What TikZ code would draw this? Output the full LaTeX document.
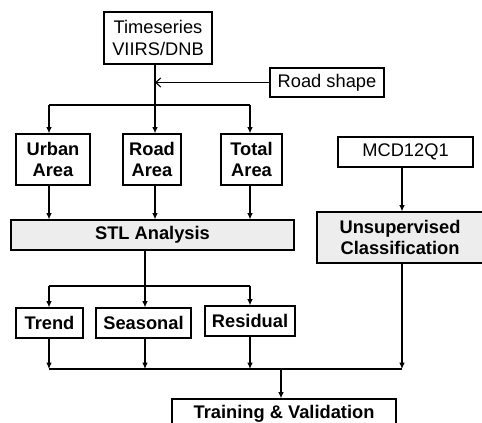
\documentclass[tikz,border=0pt]{standalone}
\usepackage{fontspec}
\setmainfont{Liberation Sans}
\usetikzlibrary{arrows.meta}
\tikzset{
  box/.style={draw=black, line width=0.9pt, align=center, inner sep=1pt, font=\fontsize{13}{15.6}\selectfont},
  boldbox/.style={box, font=\fontsize{13}{15.6}\selectfont\bfseries},
  greybox/.style={boldbox, fill=black!7},
  link/.style={line width=0.8pt, draw=black},
  arrow/.style={link, -{Latex[length=4.5pt,width=4pt]}},
  barb/.style={link, -{Straight Barb[length=3.5pt,width=6.5pt]}},
}

\begin{document}
\begin{tikzpicture}
\useasboundingbox (0,0) rectangle (12.050,10.550);
\clip (0,0) rectangle (12.050,10.550);
\node[box, minimum width=2.700cm, minimum height=1.300cm] (ts) at (3.950,9.600) {Timeseries\\VIIRS/DNB};
\node[box, minimum width=2.850cm, minimum height=0.725cm] (road) at (8.175,8.488) {Road shape};
\node[boldbox, minimum width=1.850cm, minimum height=1.275cm] (urban) at (1.325,6.563) {Urban\\Area};
\node[boldbox, minimum width=1.450cm, minimum height=1.275cm] (roada) at (3.800,6.563) {Road\\Area};
\node[boldbox, minimum width=1.525cm, minimum height=1.275cm] (total) at (6.288,6.563) {Total\\Area};
\node[box, minimum width=3.375cm, minimum height=0.750cm] (mcd) at (10.138,6.750) {MCD12Q1};
\node[greybox, minimum width=7.075cm, minimum height=0.750cm] (stl) at (3.813,4.675) {STL Analysis};
\node[greybox, minimum width=4.150cm, minimum height=1.275cm] (unsup) at (10.000,4.613) {Unsupervised\\Classification};
\node[boldbox, minimum width=1.675cm, minimum height=0.750cm] (trend) at (1.238,2.475) {Trend};
\node[boldbox, minimum width=2.375cm, minimum height=0.750cm] (seasonal) at (3.588,2.475) {Seasonal};
\node[boldbox, minimum width=2.250cm, minimum height=0.750cm] (residual) at (6.250,2.525) {Residual};
\node[boldbox, minimum width=5.600cm, minimum height=0.750cm] (train) at (7.100,0.200) {Training \& Validation};
% upper split
\coordinate (split) at (3.875,7.925);
\coordinate (c1) at (1.225,7.925);
\coordinate (c3) at (6.250,7.925);
\draw[link] (ts.south -| split) -- (split);
\draw[barb] (road.west) -- (road.west -| split);
\draw[link] (c1) -- (c3);
\draw[arrow] (c1) -- (c1 |- urban.north);
\draw[arrow] (split) -- (split |- roada.north);
\draw[arrow] (c3) -- (c3 |- total.north);
\draw[arrow] (c1 |- urban.south) -- (c1 |- stl.north);
\draw[arrow] (split |- roada.south) -- (split |- stl.north);
\draw[arrow] (c3 |- total.south) -- (c3 |- stl.north);
\coordinate (c4) at (10.050,1.325);
\draw[arrow] (c4 |- mcd.south) -- (c4 |- unsup.north);
% lower split
\coordinate (stlout) at (3.625,3.400);
\coordinate (d1) at (1.225,3.400);
\coordinate (d3) at (6.250,3.400);
\draw[link] (stlout |- stl.south) -- (stlout);
\draw[link] (d1) -- (d3);
\draw[arrow] (d1) -- (d1 |- trend.north);
\draw[arrow] (stlout) -- (stlout |- seasonal.north);
\draw[arrow] (d3) -- (d3 |- residual.north);
% merge
\coordinate (m1) at (1.225,1.325);
\coordinate (mout) at (7.025,1.325);
\draw[link] (m1) -- (c4);
\draw[arrow] (m1 |- trend.south) -- (m1);
\draw[arrow] (stlout |- seasonal.south) -- (stlout |- m1);
\draw[arrow] (d3 |- residual.south) -- (d3 |- m1);
\draw[arrow] (c4 |- unsup.south) -- (c4);
\draw[arrow] (mout) -- (mout |- train.north);
\end{tikzpicture}
\end{document}
